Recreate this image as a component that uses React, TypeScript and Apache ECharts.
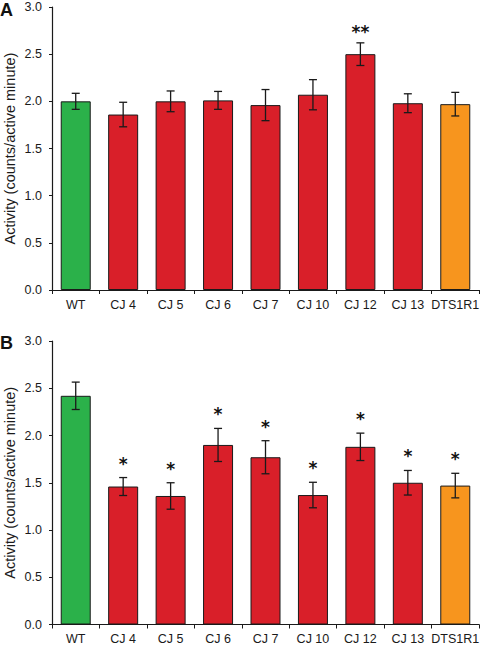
import React, { useEffect, useRef } from "react";
import * as echarts from "echarts";

const categories = ["WT", "CJ 4", "CJ 5", "CJ 6", "CJ 7", "CJ 10", "CJ 12", "CJ 13", "DTS1R1"];
const barColors = ["#2BB14A", "#D91F29", "#D91F29", "#D91F29", "#D91F29", "#D91F29", "#D91F29", "#D91F29", "#F7951E"];

const valuesA = [2.0, 1.86, 2.0, 2.01, 1.96, 2.07, 2.5, 1.98, 1.97];
const errorsA = [0.085, 0.13, 0.11, 0.095, 0.165, 0.16, 0.12, 0.1, 0.125];
const starsA = ["", "", "", "", "", "", "**", "", ""];

const valuesB = [2.42, 1.46, 1.36, 1.9, 1.77, 1.37, 1.88, 1.5, 1.47];
const errorsB = [0.145, 0.095, 0.14, 0.175, 0.175, 0.135, 0.145, 0.13, 0.13];
const starsB = ["", "*", "*", "*", "*", "*", "*", "*", "*"];

const yTicks = { min: 0, max: 3, interval: 0.5 };
const yName = "Activity (counts/active minute)";

const FONT = "'Liberation Sans', Arial, sans-serif";

function errorRender(stars: string[], starGap: number) {
  return (params: any, api: any) => {
    const idx = api.value(0);
    const lo = api.coord([idx, api.value(1)]);
    const hi = api.coord([idx, api.value(2)]);
    const half = 4;
    const style = { stroke: "#1a1a1a", lineWidth: 1.3 };
    const children: any[] = [
      { type: "line", shape: { x1: hi[0], y1: lo[1], x2: hi[0], y2: hi[1] }, style },
      { type: "line", shape: { x1: hi[0] - half, y1: hi[1], x2: hi[0] + half, y2: hi[1] }, style },
      { type: "line", shape: { x1: hi[0] - half, y1: lo[1], x2: hi[0] + half, y2: lo[1] }, style },
    ];
    const s = stars[params.dataIndex];
    if (s) {
      children.push({
        type: "text",
        x: hi[0],
        y: hi[1] - starGap,
        style: {
          text: s,
          fill: "#111",
          font: "bold 17px 'DejaVu Sans', sans-serif",
          align: "center",
          verticalAlign: "middle",
        },
      });
    }
    return { type: "group", children };
  };
}

export default function App() {
  const ref = useRef<HTMLDivElement>(null);
  useEffect(() => {
    document.body.style.margin = "0";
    const chart = echarts.init(ref.current!, undefined, { renderer: "svg" });
    const grids = [
      { left: 52, top: 7, width: 427, height: 283, outerBoundsMode: "none", containLabel: false },
      { left: 52, top: 341, width: 427, height: 283.5, outerBoundsMode: "none", containLabel: false },
    ];
    const xAxis = grids.map((_, i) => ({
      type: "category",
      gridIndex: i,
      data: categories,
      axisLine: { lineStyle: { color: "#1a1a1a", width: 1.2 } },
      axisTick: { show: true, length: 4, alignWithLabel: false, lineStyle: { color: "#1a1a1a" } },
      axisLabel: { color: "#1a1a1a", fontFamily: FONT, fontSize: 12.5, margin: 8, interval: 0 },
    }));
    const yAxis = grids.map((_, i) => ({
      type: "value",
      gridIndex: i,
      min: yTicks.min,
      max: yTicks.max,
      interval: yTicks.interval,
      name: yName,
      nameLocation: "middle",
      nameGap: 35,
      nameMoveOverlap: false,
      nameTextStyle: { color: "#1a1a1a", fontFamily: FONT, fontSize: 14.5, lineHeight: 14.5 },
      splitLine: { show: false },
      axisLine: { show: true, lineStyle: { color: "#1a1a1a", width: 1.2 } },
      axisTick: { show: true, length: 3, lineStyle: { color: "#1a1a1a" } },
      axisLabel: {
        color: "#1a1a1a",
        fontFamily: FONT,
        fontSize: 12.5,
        margin: 10,
        formatter: (v: number) => v.toFixed(1),
      },
    }));
    const barData = (vals: number[]) =>
      vals.map((v, i) => ({ value: v, itemStyle: { color: barColors[i] } }));
    const errData = (vals: number[], errs: number[]) =>
      vals.map((v, i) => [i, v - errs[i], v + errs[i]]);
    const barStyle = { borderColor: "#1a1a1a", borderWidth: 1 };
    chart.setOption({
      animation: false,
      grid: grids,
      xAxis,
      yAxis,
      graphic: [
        { type: "text", left: 0, top: 1, style: { text: "A", font: `bold 18px ${FONT}`, fill: "#111" } },
        { type: "text", left: 0, top: 334, style: { text: "B", font: `bold 18px ${FONT}`, fill: "#111" } },
      ],
      series: [
        { type: "bar", xAxisIndex: 0, yAxisIndex: 0, barWidth: 30, data: barData(valuesA), itemStyle: barStyle },
        {
          type: "custom",
          xAxisIndex: 0,
          yAxisIndex: 0,
          renderItem: errorRender(starsA, 11),
          data: errData(valuesA, errorsA),
          z: 5,
        },
        { type: "bar", xAxisIndex: 1, yAxisIndex: 1, barWidth: 30, data: barData(valuesB), itemStyle: barStyle },
        {
          type: "custom",
          xAxisIndex: 1,
          yAxisIndex: 1,
          renderItem: errorRender(starsB, 14),
          data: errData(valuesB, errorsB),
          z: 5,
        },
      ],
    });
    return () => chart.dispose();
  }, []);
  return <div ref={ref} style={{ position: "absolute", left: 0, top: 0, width: 481, height: 646 }} />;
}
